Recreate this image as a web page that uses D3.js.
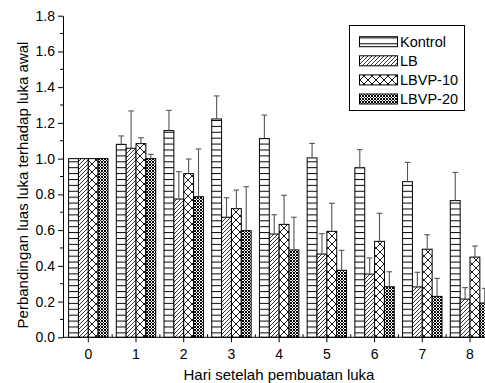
<!DOCTYPE html>
<html>
<head>
<meta charset="utf-8">
<script src="https://cdn.jsdelivr.net/npm/d3@7"></script>
<style>
  html, body { margin: 0; padding: 0; background: #fff; }
  svg { display: block; font-family: "Liberation Sans", Arial, sans-serif; }
</style>
</head>
<body>
<svg id="chart" width="485" height="383"></svg>
<script>
// Days after wounding
const days = [0, 1, 2, 3, 4, 5, 6, 7, 8];
const seriesNames = ["Kontrol", "LB", "LBVP-10", "LBVP-20"];

// Wound area ratio (relative to initial) and upper error per day
const kontrol    = [1.00, 1.080, 1.157, 1.222, 1.112, 1.004, 0.949, 0.871, 0.765];
const kontrolErr = [0,    0.047, 0.113, 0.129, 0.132, 0.081, 0.101, 0.108, 0.158];
const lb         = [1.00, 1.058, 0.774, 0.672, 0.578, 0.466, 0.354, 0.282, 0.214];
const lbErr      = [0,    0.209, 0.153, 0.109, 0.108, 0.114, 0.090, 0.082, 0.064];
const lbvp10     = [1.00, 1.084, 0.916, 0.720, 0.632, 0.593, 0.537, 0.493, 0.449];
const lbvp10Err  = [0,    0.033, 0.082, 0.104, 0.163, 0.157, 0.157, 0.081, 0.062];
const lbvp20     = [1.00, 1.000, 0.787, 0.597, 0.489, 0.375, 0.283, 0.229, 0.192];
const lbvp20Err  = [0,    0.024, 0.267, 0.246, 0.183, 0.112, 0.084, 0.101, 0.082];

const yTicks = [0, 0.2, 0.4, 0.6, 0.8, 1.0, 1.2, 1.4, 1.6, 1.8];
const xTitle = "Hari setelah pembuatan luka";
const yTitle = "Perbandingan luas luka terhadap luka awal";

const values = [kontrol, lb, lbvp10, lbvp20];
const errors = [kontrolErr, lbErr, lbvp10Err, lbvp20Err];
const patternIds = ["pat-h", "pat-diag", "pat-cross", "pat-dense"];

const svg = d3.select("#chart");

// Scales
const x = d3.scaleLinear().domain([0, 8]).range([88.3, 470]);
const y = d3.scaleLinear().domain([0, 1.8]).range([337.3, 15.7]);
const xLeft = x(-0.53);
const bw = (x(1) - x(0)) * 0.2065;

// Fill patterns
const defs = svg.append("defs");
const ph = defs.append("pattern").attr("id", "pat-h")
  .attr("patternUnits", "userSpaceOnUse").attr("width", 12).attr("height", 5.9);
ph.append("rect").attr("width", 12).attr("height", 5.9).attr("fill", "#fff");
ph.append("line").attr("x1", 0).attr("x2", 12).attr("y1", 2.5).attr("y2", 2.5)
  .attr("stroke", "#000").attr("stroke-width", 1);

const pd = defs.append("pattern").attr("id", "pat-diag")
  .attr("patternUnits", "userSpaceOnUse").attr("width", 4).attr("height", 4);
pd.append("rect").attr("width", 4).attr("height", 4).attr("fill", "#fff");
pd.append("path").attr("d", "M-1,5 L5,-1 M-1,1 L1,-1 M3,5 L5,3")
  .attr("stroke", "#000").attr("stroke-width", 0.8);

const pc = defs.append("pattern").attr("id", "pat-cross")
  .attr("patternUnits", "userSpaceOnUse").attr("width", 8).attr("height", 8);
pc.append("rect").attr("width", 8).attr("height", 8).attr("fill", "#fff");
pc.append("path").attr("d", "M0,0 L8,8 M8,0 L0,8")
  .attr("stroke", "#000").attr("stroke-width", 0.9);

const pn = defs.append("pattern").attr("id", "pat-dense")
  .attr("patternUnits", "userSpaceOnUse").attr("width", 3).attr("height", 3);
pn.append("rect").attr("width", 3).attr("height", 3).attr("fill", "#fff");
pn.append("path").attr("d", "M0,0 L3,3 M3,0 L0,3")
  .attr("stroke", "#000").attr("stroke-width", 1);

// Bars
const barG = svg.append("g");
seriesNames.forEach((name, si) => {
  barG.append("g").selectAll("rect")
    .data(days)
    .join("rect")
    .attr("x", d => x(d) + (si - 2) * bw)
    .attr("y", (d, i) => y(values[si][i]))
    .attr("width", bw)
    .attr("height", (d, i) => y(0) - y(values[si][i]))
    .attr("fill", `url(#${patternIds[si]})`)
    .attr("stroke", "#000")
    .attr("stroke-width", 1);
});

// Upper error bars
const errG = svg.append("g").attr("stroke", "#555").attr("stroke-width", 1.1);
seriesNames.forEach((name, si) => {
  days.forEach((d, i) => {
    const e = errors[si][i];
    if (!e) return;
    const cx = x(d) + (si - 2) * bw + bw / 2;
    const y0 = y(values[si][i]);
    const y1 = y(values[si][i] + e);
    errG.append("line").attr("x1", cx).attr("x2", cx).attr("y1", y0).attr("y2", y1);
    errG.append("line").attr("x1", cx - 2.8).attr("x2", cx + 2.8).attr("y1", y1).attr("y2", y1);
  });
});

// Y axis
const yAxis = d3.axisLeft(y).tickValues(yTicks).tickFormat(d3.format(".1f"))
  .tickSize(5).tickSizeOuter(0).tickPadding(3);
const yg = svg.append("g").attr("transform", `translate(${xLeft},0)`).call(yAxis);
yg.selectAll("text").attr("font-size", 14).attr("fill", "#000")
  .attr("font-family", "Liberation Sans, Arial, sans-serif");
yg.selectAll("line, path").attr("stroke", "#000");
yg.selectAll(".minor").data(d3.range(0.1, 1.8, 0.2)).join("line")
  .attr("class", "minor")
  .attr("x1", -3).attr("x2", 0)
  .attr("y1", d => y(d)).attr("y2", d => y(d))
  .attr("stroke", "#000");

// X axis
const xg = svg.append("g").attr("transform", `translate(0,${y(0)})`);
xg.append("line").attr("x1", xLeft).attr("x2", 486).attr("y1", 0).attr("y2", 0)
  .attr("stroke", "#000");
xg.selectAll(".major").data(days).join("line").attr("class", "major")
  .attr("x1", d => x(d)).attr("x2", d => x(d)).attr("y1", 0).attr("y2", 5)
  .attr("stroke", "#000");
xg.selectAll(".minor").data(days.map(d => d + 0.5)).join("line").attr("class", "minor")
  .attr("x1", d => x(d)).attr("x2", d => x(d)).attr("y1", 0).attr("y2", -3)
  .attr("stroke", "#000");
xg.selectAll("text").data(days).join("text")
  .attr("x", d => x(d)).attr("y", 21.5)
  .attr("text-anchor", "middle").attr("font-size", 14).attr("fill", "#000")
  .text(d => d);

// Axis titles
svg.append("text").attr("x", 279).attr("y", 379.5)
  .attr("text-anchor", "middle").attr("font-size", 15).attr("fill", "#000")
  .text(xTitle);
svg.append("text")
  .attr("transform", "translate(27.5,185) rotate(-90)")
  .attr("text-anchor", "middle").attr("font-size", 15).attr("fill", "#000")
  .text(yTitle);

// Legend
const lg = svg.append("g");
lg.append("rect").attr("x", 349.5).attr("y", 25.5).attr("width", 115).attr("height", 85)
  .attr("fill", "#fff").attr("stroke", "#000").attr("stroke-width", 1);
seriesNames.forEach((name, si) => {
  const cy = 41.7 + si * 19.1;
  lg.append("rect").attr("x", 359.5).attr("y", cy - 5).attr("width", 38).attr("height", 10)
    .attr("fill", `url(#${patternIds[si]})`).attr("stroke", "#000").attr("stroke-width", 1);
  lg.append("text").attr("x", 400).attr("y", cy + 5.2)
    .attr("font-size", 14.5).attr("fill", "#000").text(name);
});
</script>
</body>
</html>
